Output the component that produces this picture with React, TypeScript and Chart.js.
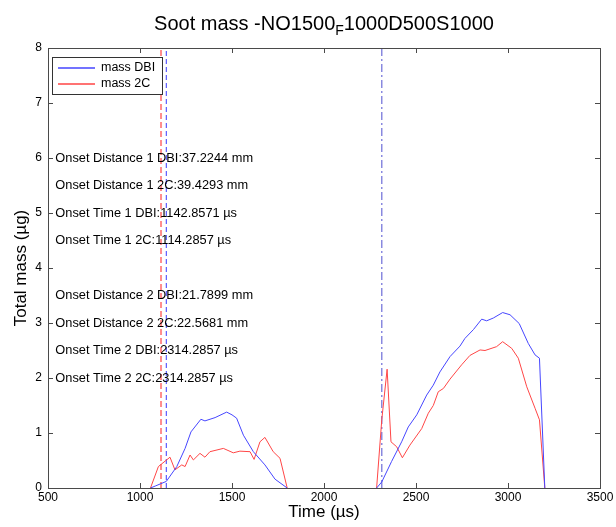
import React, { useEffect, useRef } from 'react';
import { Chart, registerables } from 'chart.js';
Chart.register(...registerables);

const FONT = '"Liberation Sans", Arial, Helvetica, sans-serif';

// Soot mass, DBI
const timeDBI = [1057, 1086, 1143, 1200, 1245, 1277, 1331, 1353, 1408, 1471, 1500, 1525, 1562, 1616, 1679, 1734, 1800,
  NaN,
  2286, 2314, 2367, 2422, 2458, 2504, 2558, 2594, 2630, 2685, 2739, 2766, 2812, 2857, 2884, 2920, 2971, 3011, 3061, 3110, 3147, 3171, 3200];
const massDBI = [0, 0.04, 0.12, 0.39, 0.72, 1.02, 1.25, 1.22, 1.28, 1.38, 1.33, 1.27, 0.96, 0.66, 0.42, 0.16, 0,
  NaN,
  0, 0.11, 0.48, 0.84, 1.11, 1.33, 1.69, 1.87, 2.11, 2.39, 2.58, 2.72, 2.88, 3.07, 3.04, 3.09, 3.19, 3.15, 2.99, 2.63, 2.42, 2.36, 0];

// Soot mass, 2C
const time2C = [1057, 1100, 1163, 1190, 1227, 1245, 1272, 1290, 1326, 1353, 1380, 1453, 1507, 1543, 1598, 1620, 1652, 1679, 1724, 1761, 1800,
  NaN,
  2286, 2314, 2343, 2364, 2395, 2426, 2467, 2531, 2567, 2594, 2621, 2649, 2685, 2748, 2793, 2848, 2875, 2938, 2971, 3020, 3056, 3102, 3147, 3171, 3200];
const mass2C = [0, 0.39, 0.56, 0.33, 0.42, 0.39, 0.6, 0.51, 0.63, 0.56, 0.66, 0.72, 0.64, 0.67, 0.66, 0.52, 0.84, 0.92, 0.66, 0.54, 0,
  NaN,
  0, 1.24, 2.16, 0.84, 0.75, 0.55, 0.78, 1.08, 1.36, 1.5, 1.75, 1.81, 1.98, 2.24, 2.41, 2.51, 2.5, 2.57, 2.66, 2.54, 2.36, 1.84, 1.45, 1.24, 0];

// onset markers
const onsetDBI1 = 1142.8571;
const onset2C1 = 1114.2857;
const onsetDBI2 = 2314.2857;

const xTicks = [500, 1000, 1500, 2000, 2500, 3000, 3500];
const yTicks = [0, 1, 2, 3, 4, 5, 6, 7, 8];

const annotationTexts = [
  'Onset Distance 1 DBI:37.2244 mm',
  'Onset Distance 1 2C:39.4293 mm',
  'Onset Time 1 DBI:1142.8571 \u00b5s',
  'Onset Time 1 2C:1114.2857 \u00b5s',
  'Onset Distance 2 DBI:21.7899 mm',
  'Onset Distance 2 2C:22.5681 mm',
  'Onset Time 2 DBI:2314.2857 \u00b5s',
  'Onset Time 2 2C:2314.2857 \u00b5s',
];
const annotationY = [6, 5.5, 5, 4.5, 3.5, 3, 2.5, 2];
const annotationX = 540;

const BLUE = '#4646ff';
const RED = '#ff4646';
const AXIS = '#4a4a4a';

function toPoints(xs: number[], ys: number[]) {
  return xs.map((x, i) => (isNaN(x) ? { x: null as any, y: null as any } : { x, y: ys[i] }));
}

const legendItems = [
  { label: 'mass DBI', color: '#0000ff' },
  { label: 'mass 2C', color: '#ff0000' },
];

const decorPlugin = {
  id: 'decor',
  afterDatasetsDraw(chart: any) {
    const { ctx, chartArea } = chart;
    const { left, right, top, bottom } = chartArea;
    const xs = chart.scales.x;
    const ys = chart.scales.y;
    ctx.save();
    // box
    ctx.strokeStyle = AXIS;
    ctx.lineWidth = 1;
    ctx.setLineDash([]);
    ctx.strokeRect(Math.round(left) + 0.5, Math.round(top) + 0.5, Math.round(right - left), Math.round(bottom - top));
    // inward ticks
    const tl = 5;
    ctx.beginPath();
    xTicks.forEach((t) => {
      const px = Math.round(xs.getPixelForValue(t)) + 0.5;
      ctx.moveTo(px, bottom);
      ctx.lineTo(px, bottom - tl);
      ctx.moveTo(px, top);
      ctx.lineTo(px, top + tl);
    });
    yTicks.forEach((t) => {
      const py = Math.round(ys.getPixelForValue(t)) + 0.5;
      ctx.moveTo(left, py);
      ctx.lineTo(left + tl, py);
      ctx.moveTo(right, py);
      ctx.lineTo(right - tl, py);
    });
    ctx.stroke();

    // annotations
    ctx.fillStyle = '#000';
    ctx.font = `12.8px ${FONT}`;
    ctx.textAlign = 'left';
    ctx.textBaseline = 'middle';
    annotationTexts.forEach((s, i) => {
      ctx.fillText(s, xs.getPixelForValue(annotationX), ys.getPixelForValue(annotationY[i]));
    });

    // legend
    const lx = left + 4, ly = top + 9, lw = 110, lh = 37;
    ctx.fillStyle = '#fff';
    ctx.fillRect(lx, ly, lw, lh);
    ctx.strokeStyle = '#333';
    ctx.lineWidth = 1;
    ctx.strokeRect(lx + 0.5, ly + 0.5, lw, lh);
    legendItems.forEach((d, i) => {
      const y = ly + 11 + i * 16;
      ctx.save();
      ctx.globalAlpha = 0.55;
      ctx.strokeStyle = d.color;
      ctx.lineWidth = 2;
      ctx.beginPath();
      ctx.moveTo(lx + 6, y);
      ctx.lineTo(lx + 43, y);
      ctx.stroke();
      ctx.restore();
      ctx.fillStyle = '#000';
      ctx.font = `12.5px ${FONT}`;
      ctx.textBaseline = 'middle';
      ctx.fillText(d.label, lx + 49, y);
    });

    // title with subscript
    const cx = (left + right) / 2;
    const p1 = 'Soot mass -NO1500';
    const sub = 'F';
    const p2 = '1000D500S1000';
    ctx.textBaseline = 'alphabetic';
    ctx.fillStyle = '#000';
    ctx.font = `20px ${FONT}`;
    const w1 = ctx.measureText(p1).width;
    const w3 = ctx.measureText(p2).width;
    ctx.font = `14px ${FONT}`;
    const w2 = ctx.measureText(sub).width;
    const total = w1 + w2 + w3;
    const x0 = cx - total / 2;
    const base = 30;
    ctx.textAlign = 'left';
    ctx.font = `20px ${FONT}`;
    ctx.fillText(p1, x0, base);
    ctx.font = `14px ${FONT}`;
    ctx.fillText(sub, x0 + w1, base + 5);
    ctx.font = `20px ${FONT}`;
    ctx.fillText(p2, x0 + w1 + w2, base);

    // axis titles
    ctx.font = `17px ${FONT}`;
    ctx.textAlign = 'center';
    ctx.textBaseline = 'middle';
    ctx.fillText('Time (\u00b5s)', cx, 512);
    ctx.save();
    ctx.translate(21, (top + bottom) / 2);
    ctx.rotate(-Math.PI / 2);
    ctx.fillText('Total mass (\u00b5g)', 0, 0);
    ctx.restore();

    ctx.restore();
  },
};

export default function App() {
  const ref = useRef<HTMLCanvasElement>(null);
  useEffect(() => {
    if (!ref.current) return;
    const yMin = yTicks[0];
    const yMax = yTicks[yTicks.length - 1];
    const vline = (x: number) => [{ x, y: yMin }, { x, y: yMax }];
    const chart = new Chart(ref.current, {
      type: 'line',
      data: {
        datasets: [
          { label: 'mass DBI', data: toPoints(timeDBI, massDBI), borderColor: BLUE, borderWidth: 1, pointRadius: 0, tension: 0, spanGaps: false } as any,
          { label: 'mass 2C', data: toPoints(time2C, mass2C), borderColor: RED, borderWidth: 1, pointRadius: 0, tension: 0, spanGaps: false } as any,
          { label: 'onset 2C 1', data: vline(onset2C1), borderColor: '#ff8c8c', borderWidth: 2, borderDash: [6, 3], pointRadius: 0 } as any,
          { label: 'onset DBI 1', data: vline(onsetDBI1), borderColor: '#3a3aff', borderWidth: 1, borderDash: [5, 3], pointRadius: 0 } as any,
          { label: 'onset DBI 2', data: vline(onsetDBI2), borderColor: '#5050d0', borderWidth: 1, borderDash: [8, 3, 2, 3], pointRadius: 0 } as any,
        ],
      },
      options: {
        animation: false,
        responsive: false,
        maintainAspectRatio: false,
        layout: { padding: { top: 48, right: 16, left: 0, bottom: 0 } },
        plugins: { legend: { display: false }, title: { display: false }, tooltip: { enabled: false } },
        scales: {
          x: {
            type: 'linear',
            min: 500,
            max: 3500,
            afterBuildTicks: (s: any) => { s.ticks = xTicks.map((v) => ({ value: v })); },
            ticks: { color: '#000', font: { size: 12, family: FONT }, padding: 2, maxRotation: 0, callback: (v: any) => String(v) },
            grid: { display: false, drawTicks: false },
            border: { display: false },
            afterFit: (s: any) => { s.height = 39; },
          },
          y: {
            type: 'linear',
            min: 0,
            max: 8,
            afterBuildTicks: (s: any) => { s.ticks = yTicks.map((v) => ({ value: v })); },
            ticks: { color: '#000', font: { size: 12, family: FONT }, padding: 6, callback: (v: any) => String(v) },
            grid: { display: false, drawTicks: false },
            border: { display: false },
            afterFit: (s: any) => { s.width = 48; },
          },
        },
      } as any,
      plugins: [decorPlugin],
    });
    return () => chart.destroy();
  }, []);
  return (
    <div style={{ position: 'absolute', left: 0, top: 0, width: 616, height: 527, background: '#fff' }}>
      <canvas ref={ref} width={616} height={527} style={{ width: 616, height: 527, display: 'block' }} />
    </div>
  );
}
